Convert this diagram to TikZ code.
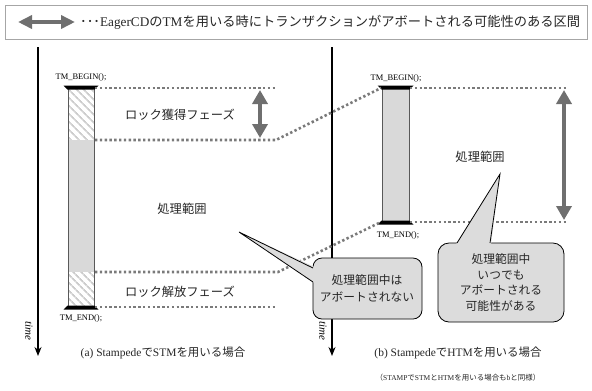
\documentclass[tikz,border=0pt]{standalone}
\usepackage{fontspec}
\setmainfont{Liberation Serif}
\newfontfamily\jp{Noto Sans CJK JP}
\usetikzlibrary{arrows.meta,patterns.meta}
\definecolor{barfill}{HTML}{D9D9D9}
\definecolor{bargray}{HTML}{595959}
\definecolor{arrowgray}{HTML}{6F6F6F}
\definecolor{dotgray}{HTML}{7A7A7A}
\definecolor{hatchgray}{HTML}{CCCCCC}
\definecolor{callfill}{HTML}{DCDCDC}
\definecolor{boxgray}{HTML}{A6A6A6}
\definecolor{txt}{HTML}{262626}
\begin{document}
\begin{tikzpicture}[x=1bp,y=-1bp,
  dotline/.style={draw=dotgray,line width=2.6bp,dash pattern=on 2.4bp off 2.4bp},
  bigarrow/.style={draw=arrowgray,line width=4.5bp,{Triangle[width=15bp,length=14bp]}-{Triangle[width=15bp,length=14bp]}},
  lbl/.style={font=\jp\fontsize{12.3}{14}\selectfont,text=txt,inner sep=0pt},
  calltxt/.style={font=\jp\fontsize{11.8}{17}\selectfont,text=txt,inner sep=0pt,align=center},
  tmlbl/.style={font=\fontsize{8.5}{9}\selectfont,inner sep=0pt},
  timeline/.style={line width=1.2bp,-{Stealth[width=7bp,length=9bp]}},
  timelbl/.style={font=\itshape\fontsize{11}{12}\selectfont,rotate=-90,inner sep=0pt},
  caption/.style={font=\fontsize{11.5}{14}\selectfont,text=txt,inner sep=0pt},
  barbox/.style={draw=bargray,line width=1bp},
  hatch/.style={pattern={Lines[angle=-45,distance=6bp,line width=2.2bp]},pattern color=hatchgray},
  capfill/.style={fill=black},
  callout/.style={fill=callfill,draw=black,line width=0.8bp}
]
\useasboundingbox (0,0) rectangle (592,390);
% legend
\draw[draw=boxgray,line width=1bp] (5,5) rectangle (587,39);
\coordinate (lgA) at (18,22);
\coordinate (lgB) at (75,22);
\draw[draw=arrowgray,line width=4bp,{Triangle[width=13bp,length=14bp]}-{Triangle[width=13bp,length=14bp]}] (lgA) -- (lgB);
\node[anchor=west,font=\fontsize{13.3}{15}\selectfont,text=txt,inner sep=0pt] (legend) at (80,22.5)
  {{\jp ･･･}EagerCD{\jp の}TM{\jp を用いる時にトランザクションがアボートされる可能性のある区間}};

% timelines
\coordinate (tlA) at (38,47);
\coordinate (tlAe) at (38,356);
\coordinate (tlB) at (332,47);
\coordinate (tlBe) at (332,356);
\draw[timeline] (tlA) -- (tlAe);
\draw[timeline] (tlB) -- (tlBe);
\node[timelbl] (timeA) at (29,331) {time};
\node[timelbl] (timeB) at (323,331) {time};

% left bar
\fill[white] (68,88) rectangle (94,307);
\fill[hatch] (68,88) rectangle (94,140);
\fill[barfill] (68,140) rectangle (94,272);
\fill[hatch] (68,272) rectangle (94,307);
\draw[barbox] (68,88) rectangle (94,307);
\fill[capfill] (63.5,85.5) -- (98.5,85.5) -- (94.5,89.5) -- (67.5,89.5) -- cycle;
\fill[capfill] (67.5,305.5) -- (94.5,305.5) -- (98.5,309.5) -- (63.5,309.5) -- cycle;
\node[tmlbl] (beginA) at (81,77) {TM\_BEGIN();};
\node[tmlbl] (endA) at (81,318) {TM\_END();};

% right bar
\fill[barfill] (382,88) rectangle (409,222);
\draw[barbox] (382,88) rectangle (409,222);
\fill[capfill] (377.5,85.5) -- (413.5,85.5) -- (409.5,89.5) -- (381.5,89.5) -- cycle;
\fill[capfill] (381.5,220.5) -- (409.5,220.5) -- (413.5,224.5) -- (377.5,224.5) -- cycle;
\node[tmlbl] (beginB) at (396,78) {TM\_BEGIN();};
\node[tmlbl] (endB) at (398,235) {TM\_END();};

% coordinates
\coordinate (L1) at (95,88);
\coordinate (L2) at (95,140);
\coordinate (L3) at (95,272);
\coordinate (L4) at (95,307);
\coordinate (R0) at (381,88);
\coordinate (R1) at (410,88);
\coordinate (R2) at (410,222);
\coordinate (R3) at (381,222);
\coordinate (e1) at (276,88);
\coordinate (k2) at (276,140);
\coordinate (k3) at (278,272);
\coordinate (e4) at (276,307);
\coordinate (e5) at (567,88);
\coordinate (e6) at (567,222);

\draw[dotline] (L1) -- (e1);
\draw[dotline] (L2) -- (k2) -- (R0);
\draw[dotline] (L3) -- (k3) -- (R3);
\draw[dotline] (L4) -- (e4);
\draw[dotline] (R1) -- (e5);
\draw[dotline] (R2) -- (e6);

% big arrows
\coordinate (aA1) at (260,90);
\coordinate (aA2) at (260,138);
\coordinate (aB1) at (564,90);
\coordinate (aB2) at (564,220);
\draw[bigarrow] (aA1) -- (aA2);
\draw[bigarrow] (aB1) -- (aB2);

% labels
\node[lbl] (lock1) at (180,115) {ロック獲得フェーズ};
\node[lbl] (procA) at (182,209) {処理範囲};
\node[lbl] (lock2) at (180,292) {ロック解放フェーズ};
\node[lbl] (procB) at (480,157) {処理範囲};

% callout 1
\coordinate (tip1) at (239,232);
\fill[callout] (313,258) [rounded corners=9bp] rectangle (422,319);
\fill[callfill] (314.5,267) -- (tip1) -- (314.5,283) -- cycle;
\draw[line width=0.8bp] (313,268) -- (tip1) -- (313,282);
\node[calltxt] (c1) at (367,288.5) {処理範囲中は\\アボートされない};

% callout 2
\coordinate (tip2) at (500,174);
\fill[callout] (438,243) [rounded corners=11bp] rectangle (564,322);
\fill[callfill] (456,244.5) -- (tip2) -- (491,244.5) -- cycle;
\draw[line width=0.8bp] (457,243) -- (tip2) -- (490,243);
\node[calltxt,font=\jp\fontsize{11.8}{16}\selectfont] (c2) at (501,282.5) {処理範囲中\\いつでも\\アボートされる\\可能性がある};

% captions
\node[caption] (capA) at (163,353) {(a) Stampede{\jp で}STM{\jp を用いる場合}};
\node[caption] (capB) at (458,353) {(b) Stampede{\jp で}HTM{\jp を用いる場合}};
\node[font=\fontsize{7.5}{8}\selectfont,text=txt,inner sep=0pt] (note) at (458,378)
  {{\jp （}STAMP{\jp で}STM{\jp と}HTM{\jp を用いる場合も}b{\jp と同様）}};
\end{tikzpicture}
\end{document}
